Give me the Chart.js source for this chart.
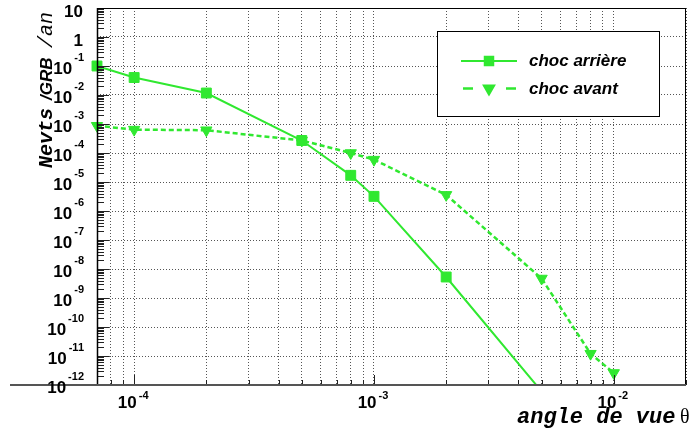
<!DOCTYPE html>
<html>
<head>
<meta charset="utf-8">
<script src="https://cdn.jsdelivr.net/npm/chart.js@4"></script>
<style>
  html, body { margin: 0; padding: 0; background: #fff; }
  #wrap { width: 694px; height: 441px; }
</style>
</head>
<body>
<div id="wrap"><canvas id="graph" width="694" height="441"></canvas></div>
<script>
const anglesArriere = [7e-5, 1e-4, 2e-4, 5e-4, 8e-4, 1e-3, 2e-3, 5e-3]
const chocArriere = [0.1, 0.04, 0.0117, 2.7e-4, 1.7e-5, 3.2e-6, 5.3e-9, 6e-13]
const anglesAvant = [7e-5, 1e-4, 2e-4, 5e-4, 8e-4, 1e-3, 2e-3, 5e-3, 8e-3, 1e-2]
const chocAvant = [8.7e-4, 6.4e-4, 6.1e-4, 2.7e-4, 1e-4, 5.9e-5, 3.6e-6, 4.7e-9, 1.2e-11, 2.6e-12]

const seriesLabels = ['choc arrière', 'choc avant']

// axis ranges and tick labels ([mantissa, exponent])
const xRange = [7e-5, 2e-2]
const yRange = [1e-12, 10]
const xDecades = [1e-5, 1e-4, 1e-3, 1e-2]
const xTickValues = [1e-4, 1e-3, 1e-2]
const xTickLabels = [['10', '-4'], ['10', '-3'], ['10', '-2']]
const yTickValues = [10, 1, 1e-1, 1e-2, 1e-3, 1e-4, 1e-5, 1e-6, 1e-7, 1e-8, 1e-9, 1e-10, 1e-11, 1e-12]
const yTickLabels = [['10', ''], ['1', ''], ['10', '-1'], ['10', '-2'], ['10', '-3'], ['10', '-4'], ['10', '-5'],
  ['10', '-6'], ['10', '-7'], ['10', '-8'], ['10', '-9'], ['10', '-10'], ['10', '-11'], ['10', '-12']]
const minorSteps = [1, 2, 3, 4, 5, 6, 7, 8, 9]

const GREEN = 'rgb(48,232,48)'
const BASE_FONT = 'bold 17px "Liberation Sans", Arial, sans-serif'
const EXP_FONT = 'bold 11px "Liberation Sans", Arial, sans-serif'

const toPoints = (xs, ys) => xs.map((x, i) => ({ x: x, y: ys[i] }))

const inRange = (v, r) => v >= r[0] * 0.999999 && v <= r[1] * 1.000001

// every 1..9 x 10^n inside a range
const logSteps = (decades, range) => {
  const out = []
  decades.forEach((d) => minorSteps.forEach((k) => {
    const v = d * k
    if (inRange(v, range)) out.push({ value: v, major: k === 1 })
  }))
  return out
}

const yDecades = yTickValues.slice().reverse()

const rootStyle = {
  id: 'rootStyle',
  afterDraw(chart) {
    const ctx = chart.ctx
    const area = chart.chartArea
    const xs = chart.scales.x
    const ys = chart.scales.y
    ctx.save()

    // inner ticks on the y axis
    ctx.strokeStyle = '#222'
    ctx.lineWidth = 1
    logSteps(yDecades, yRange).forEach((t) => {
      const py = Math.round(ys.getPixelForValue(t.value)) + 0.5
      ctx.beginPath()
      ctx.moveTo(area.left, py)
      ctx.lineTo(area.left + (t.major ? 12 : 7), py)
      ctx.stroke()
    })
    // inner ticks on the x axis
    logSteps(xDecades, xRange).forEach((t) => {
      const px = Math.round(xs.getPixelForValue(t.value)) + 0.5
      ctx.beginPath()
      ctx.moveTo(px, area.bottom)
      ctx.lineTo(px, area.bottom - (t.major ? 10 : 5))
      ctx.stroke()
    })

    // frame
    ctx.strokeStyle = '#000'
    ctx.lineWidth = 1
    ctx.strokeRect(area.left + 0.5, area.top + 0.5, area.right - area.left - 1, area.bottom - area.top)
    ctx.lineWidth = 1.5
    ctx.beginPath()
    ctx.moveTo(area.left + 0.5, area.top)
    ctx.lineTo(area.left + 0.5, area.bottom)
    ctx.stroke()
    ctx.strokeStyle = '#555'
    ctx.lineWidth = 2
    ctx.beginPath()
    ctx.moveTo(10, area.bottom)
    ctx.lineTo(area.right, area.bottom)
    ctx.stroke()

    // y tick labels
    ctx.fillStyle = '#000'
    ctx.textBaseline = 'alphabetic'
    yTickValues.forEach((v, i) => {
      const py = ys.getPixelForValue(v)
      const [base, exp] = yTickLabels[i]
      ctx.font = BASE_FONT
      if (!exp) {
        ctx.textAlign = 'right'
        ctx.fillText(base, 83, py + 8.5)
        return
      }
      ctx.font = EXP_FONT
      const ew = ctx.measureText(exp).width
      ctx.textAlign = 'left'
      ctx.fillText(exp, 84 - ew, py - 5)
      ctx.font = BASE_FONT
      ctx.textAlign = 'right'
      ctx.fillText(base, 82 - ew, py + 7.5)
    })

    // x tick labels
    xTickValues.forEach((v, i) => {
      const px = xs.getPixelForValue(v)
      const [base, exp] = xTickLabels[i]
      ctx.font = BASE_FONT
      const bw = ctx.measureText(base).width
      ctx.font = EXP_FONT
      const ew = ctx.measureText(exp).width
      const x0 = px - 1 - (bw + ew + 2) / 2
      ctx.textAlign = 'left'
      ctx.fillText(exp, x0 + bw + 2, 399)
      ctx.font = BASE_FONT
      ctx.fillText(base, x0, 408)
    })

    // x axis title
    ctx.font = 'italic bold 22px "Liberation Mono", "Courier New", monospace'
    ctx.textAlign = 'left'
    ctx.fillText('angle de vue', 517, 423)
    ctx.font = '20px "Liberation Serif", "Times New Roman", serif'
    ctx.fillText('θ', 680, 423)

    // y axis title (rotated, pieces in mixed fonts)
    ctx.save()
    ctx.translate(52, 168)
    ctx.rotate(-Math.PI / 2)
    const parts = [
      ['Nevts', 'italic bold 20px "Liberation Mono", "Courier New", monospace', 0],
      ['/GRB', 'italic bold 17px "Liberation Sans", Arial, sans-serif', 68],
      ['/an', 'italic 20px "Liberation Mono", "Courier New", monospace', 120]
    ]
    parts.forEach(([txt, font, off]) => {
      ctx.font = font
      ctx.fillText(txt, off, 0)
    })
    ctx.restore()

    // legend box
    const box = { l: 437, t: 31, r: 659, b: 116 }
    ctx.fillStyle = '#fff'
    ctx.fillRect(box.l, box.t, box.r - box.l, box.b - box.t)
    ctx.strokeStyle = '#000'
    ctx.lineWidth = 1
    ctx.strokeRect(box.l + 0.5, box.t + 0.5, box.r - box.l, box.b - box.t)

    const rows = [61, 88.5]
    chart.data.datasets.forEach((ds, i) => {
      const y = rows[i]
      ctx.strokeStyle = ds.borderColor
      ctx.lineWidth = ds.borderWidth
      if (ds.borderDash && ds.borderDash.length) {
        ctx.beginPath()
        ctx.moveTo(463, y); ctx.lineTo(473, y)
        ctx.moveTo(506, y); ctx.lineTo(516, y)
        ctx.stroke()
      } else {
        ctx.beginPath()
        ctx.moveTo(461, y); ctx.lineTo(517, y)
        ctx.stroke()
      }
      ctx.fillStyle = ds.pointBackgroundColor
      ctx.strokeStyle = ds.pointBorderColor
      Chart.helpers.drawPoint(ctx, {
        pointStyle: ds.pointStyle,
        rotation: ds.pointRotation || 0,
        radius: ds.pointStyle === 'rect' ? 6 : 5.5,
        borderWidth: 1
      }, 489, y)
      ctx.fillStyle = '#000'
      ctx.font = 'italic bold 17px "Liberation Sans", Arial, sans-serif'
      ctx.textAlign = 'left'
      ctx.fillText(ds.label, 529, y + 5)
    })

    ctx.restore()
  }
}

const ctx = document.getElementById('graph').getContext('2d')

new Chart(ctx, {
  type: 'line',
  data: {
    datasets: [
      {
        label: seriesLabels[0],
        data: toPoints(anglesArriere, chocArriere),
        borderColor: GREEN,
        borderWidth: 2,
        pointStyle: 'rect',
        pointRadius: 7,
        pointBackgroundColor: GREEN,
        pointBorderColor: GREEN,
        pointBorderWidth: 1,
        tension: 0,
        clip: { left: 10, top: 10, right: 10, bottom: 0 },
      },
      {
        label: seriesLabels[1],
        data: toPoints(anglesAvant, chocAvant),
        borderColor: GREEN,
        borderWidth: 2.5,
        borderDash: [5, 3],
        pointStyle: 'triangle',
        pointRotation: 180,
        pointRadius: 6.5,
        pointBackgroundColor: GREEN,
        pointBorderColor: GREEN,
        pointBorderWidth: 1,
        tension: 0,
        clip: { left: 10, top: 10, right: 10, bottom: 10 },
      },
    ],
  },
  options: {
    responsive: false,
    animation: false,
    events: [],
    layout: { padding: { top: 8, right: 3, left: 0, bottom: 0 } },
    plugins: { legend: { display: false }, tooltip: { enabled: false } },
    scales: {
      x: {
        type: 'logarithmic',
        min: xRange[0],
        max: xRange[1],
        ticks: { display: false },
        grid: { color: '#555', lineWidth: 1, drawTicks: false },
        border: { display: false, dash: [1, 2] },
        afterBuildTicks: (scale) => { scale.ticks = logSteps(xDecades, xRange) },
        afterFit: (scale) => { scale.height = 56 },
      },
      y: {
        type: 'logarithmic',
        min: yRange[0],
        max: yRange[1],
        ticks: { display: false },
        grid: { color: '#555', lineWidth: 1, drawTicks: false },
        border: { display: false, dash: [1, 2] },
        afterBuildTicks: (scale) => { scale.ticks = yDecades.map((v) => ({ value: v, major: true })) },
        afterFit: (scale) => { scale.width = 97 },
      },
    },
  },
  plugins: [rootStyle],
})
</script>
</body>
</html>
